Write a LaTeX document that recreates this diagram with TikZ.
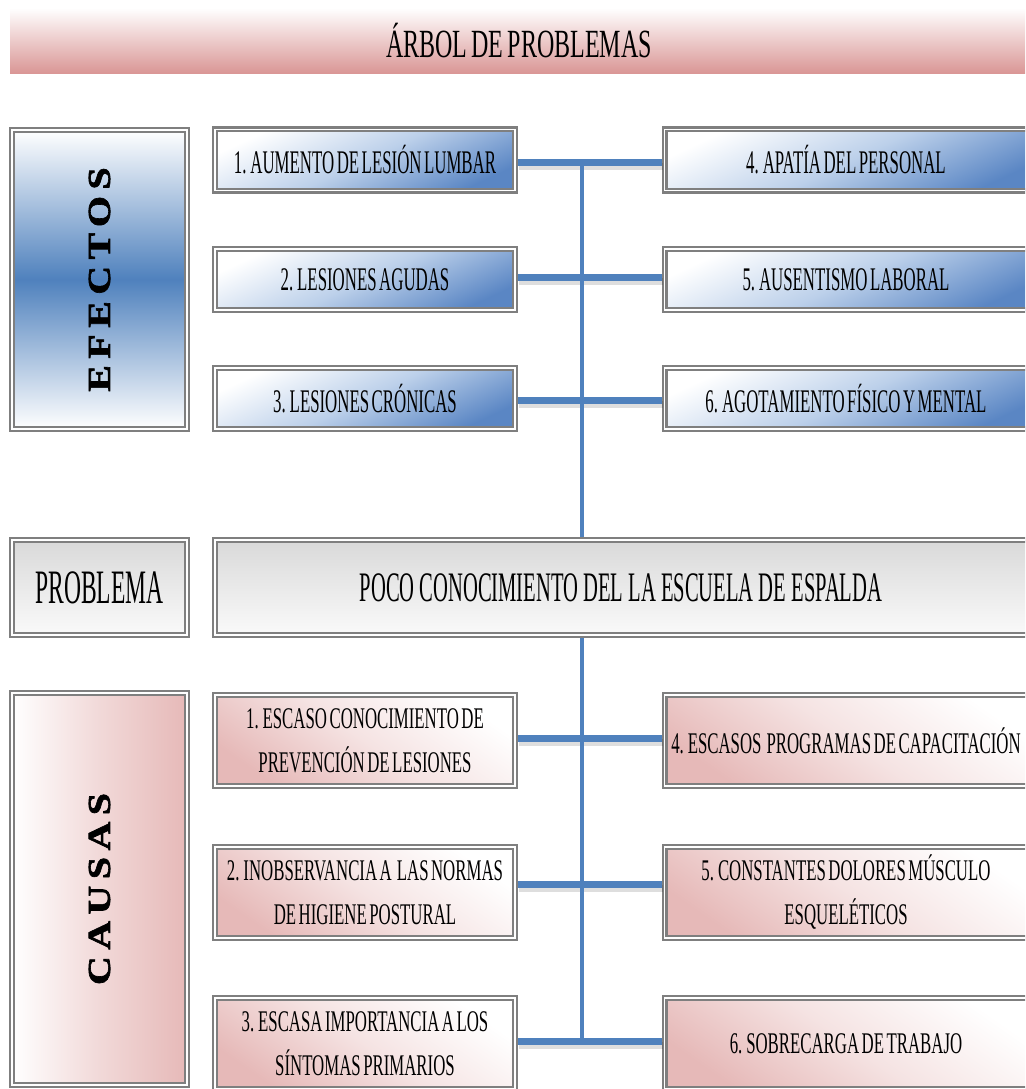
\documentclass[tikz,border=0pt]{standalone}
\usepackage{fontspec}
\setmainfont{Liberation Serif}
\newfontfamily\cond[FakeStretch=0.51,WordSpace=0.6]{Liberation Serif}
\newfontfamily\condp[FakeStretch=0.49]{Liberation Serif}
\newfontfamily\condc[FakeStretch=0.56,WordSpace=0.6]{Liberation Serif}
\newfontfamily\condtitle[FakeStretch=0.6,WordSpace=0.7]{Liberation Serif}
\newfontfamily\widebold[LetterSpace=20,FakeStretch=1.25,FakeBold=2]{Liberation Serif Bold}
\definecolor{bl}{HTML}{4F81BD}
\definecolor{bgray}{HTML}{7F7F7F}
\definecolor{pk}{HTML}{D99594}
\definecolor{pk2}{HTML}{E6B9B8}
\definecolor{lb}{HTML}{BCD0EA}
\definecolor{db}{HTML}{5A86C4}
\tikzset{
  box/.style={draw=bgray, line width=2.2pt, double=white, double distance=1.6pt,
    outer sep=3pt, inner sep=0pt, align=center, text=black},
  effbox/.style={box, minimum width=300pt, minimum height=61pt,
    top color=white, bottom color=db, middle color=lb, shading angle=25,
    font=\cond\fontsize{33}{38}\selectfont},
  reffbox/.style={effbox, minimum width=373pt},
  caubox/.style={box, minimum width=300pt, minimum height=91pt,
    top color=white, bottom color=pk2, middle color=pk2!40, shading angle=-35,
    font=\condc\fontsize{30}{44}\selectfont},
  rcaubox/.style={caubox, minimum width=373pt},
  sidebox/.style={box, minimum width=175pt},
  sidetext/.style={rotate=90, font=\widebold\fontsize{32}{36}\selectfont},
  conn/.style={draw=bl, line width=7pt},
  vconn/.style={draw=bl, line width=4pt},
  shad/.style={draw=black, opacity=0.13, line width=7pt,
    transform canvas={shift={(1pt,-4pt)}}},
}
\begin{document}
\begin{tikzpicture}[x=1pt,y=-1pt]
\useasboundingbox (0,0) rectangle (1025,1089);
\clip (0,0) rectangle (1025,1089);
% title band
\shade[top color=white, bottom color=pk] (10,8) rectangle (1030,74);
\node[font=\condtitle\fontsize{40}{44}\selectfont, anchor=base] (title) at (519,58) {ÁRBOL DE PROBLEMAS};
% effects
\node[sidebox, minimum height=299pt, top color=white, bottom color=white, middle color=bl] (efectos) at (99.5,279.5) {};
\node[sidetext] (efectosT) at (efectos.center) {EFECTOS};
\node[effbox] (l1) at (365,160) {1. AUMENTO DE LESIÓN LUMBAR};
\node[effbox] (l2) at (365,279.5) {2. LESIONES AGUDAS};
\node[effbox] (l3) at (365,398.5) {3. LESIONES CRÓNICAS};
\node[reffbox] (r1) at (851,160) {\hspace*{-10pt}4. APATÍA DEL PERSONAL};
\node[reffbox] (r2) at (851,279.5) {\hspace*{-10pt}5. AUSENTISMO LABORAL};
\node[reffbox] (r3) at (851,398.5) {\hspace*{-10pt}6. AGOTAMIENTO FÍSICO Y MENTAL};
% problem
\node[sidebox, minimum height=95pt, top color=black!15, bottom color=black!2,
  font=\condp\fontsize{48}{52}\selectfont] (problema) at (99.5,587.5) {PROBLEMA};
\node[box, minimum width=822pt, minimum height=95pt, top color=black!15, bottom color=black!2,
  font=\condp\fontsize{42}{48}\selectfont] (prob) at (626,587.5) {\hspace*{-10pt}POCO CONOCIMIENTO DEL LA ESCUELA DE ESPALDA};
% causes
\node[sidebox, minimum height=392pt, left color=white, right color=pk2, middle color=pk2!55] (causas) at (99.5,889) {};
\node[sidetext] (causasT) at (causas.center) {CAUSAS};
\node[caubox] (cl1) at (365,740.5) {1. ESCASO CONOCIMIENTO DE\\PREVENCIÓN DE LESIONES};
\node[caubox] (cl2) at (365,892.5) {2. INOBSERVANCIA A\ \ LAS NORMAS\\DE HIGIENE POSTURAL};
\node[caubox] (cl3) at (365,1043.5) {3. ESCASA IMPORTANCIA A LOS\\SÍNTOMAS PRIMARIOS};
\node[rcaubox] (cr1) at (851,740.5) {\hspace*{-10pt}4. ESCASOS\ \ PROGRAMAS DE CAPACITACIÓN};
\node[rcaubox] (cr2) at (851,892.5) {5. CONSTANTES DOLORES MÚSCULO\hspace*{10pt}\\ESQUELÉTICOS\hspace*{10pt}};
\node[rcaubox] (cr3) at (851,1043.5) {\hspace*{-10pt}6. SOBRECARGA DE TRABAJO};
% connectors
\coordinate (vx) at (582,0);
\coordinate (h1) at (0,162);
\coordinate (h2) at (0,277);
\coordinate (h3) at (0,400);
\coordinate (h4) at (0,738);
\coordinate (h5) at (0,884);
\coordinate (h6) at (0,1041);
\foreach \a/\b/\h in {l1/r1/h1,l2/r2/h2,l3/r3/h3,cl1/cr1/h4,cl2/cr2/h5,cl3/cr3/h6}{
  \draw[shad] (\a.east |- \h) -- (\b.west |- \h);
}
\draw[vconn] (vx |- h1) -- (vx |- prob.north);
\draw[vconn] (vx |- prob.south) -- (vx |- h6);
\foreach \a/\b/\h in {l1/r1/h1,l2/r2/h2,l3/r3/h3,cl1/cr1/h4,cl2/cr2/h5,cl3/cr3/h6}{
  \draw[conn] (\a.east |- \h) -- (\b.west |- \h);
}
\end{tikzpicture}
\end{document}
